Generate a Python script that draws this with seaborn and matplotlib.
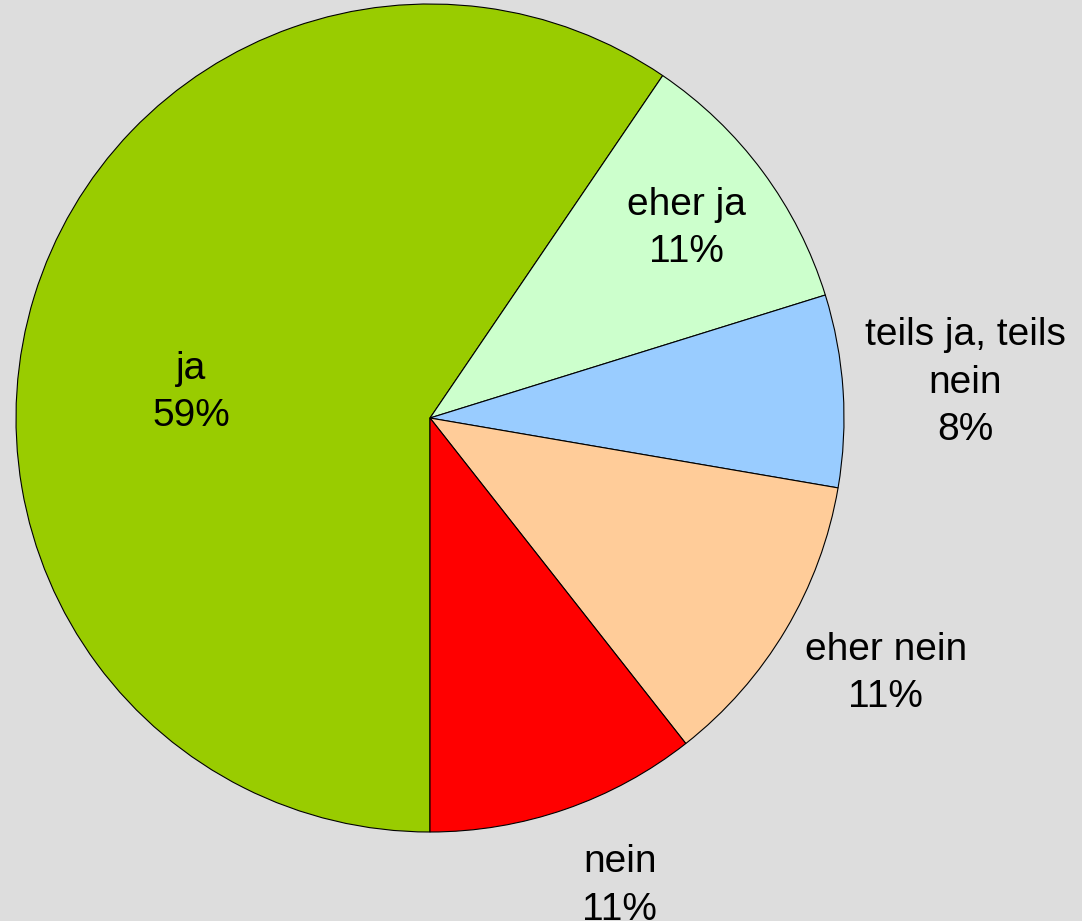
import numpy as np
import matplotlib
matplotlib.use("Agg")
import matplotlib.pyplot as plt
import seaborn as sns

categories = ["ja", "eher ja", "teils ja, teils\nnein", "eher nein", "nein"]
shares = [59.5, 10.7, 7.5, 11.7, 10.6]
pct_labels = ["59%", "11%", "8%", "11%", "11%"]
colors = ["#99CC00", "#CCFFCC", "#99CCFF", "#FFCC99", "#FF0000"]

sns.set_theme(style="white")
plt.rcParams["font.family"] = ["Liberation Sans", "DejaVu Sans"]

bg = "#DDDDDD"
fig = plt.figure(figsize=(10.82, 9.21), dpi=100, facecolor=bg)
ax = fig.add_axes([0, 0, 1, 1])
ax.set_facecolor(bg)

wedges, _ = ax.pie(shares, colors=colors, startangle=270, counterclock=False,
                   radius=1.0, wedgeprops=dict(edgecolor="black", linewidth=0.8))

# label radius / angle offset per slice (layout only)
label_r = [0.58, 0.77, 1.295, 1.262, 1.22]
label_da = [11, 0, 0, 1.5, 3]
for w, cat, pct, r, da in zip(wedges, categories, pct_labels, label_r, label_da):
    ang = np.deg2rad((w.theta1 + w.theta2) / 2 + da)
    ax.text(r * np.cos(ang), r * np.sin(ang), f"{cat}\n{pct}", ha="center", va="center",
            fontsize=28, color="black", linespacing=1.4)

ax.set_xlim(-430 / 414, 652 / 414)
ax.set_ylim(-503 / 414, 418 / 414)
ax.set_aspect("equal")
ax.axis("off")

fig.savefig("out.png", dpi=100, facecolor=bg)
